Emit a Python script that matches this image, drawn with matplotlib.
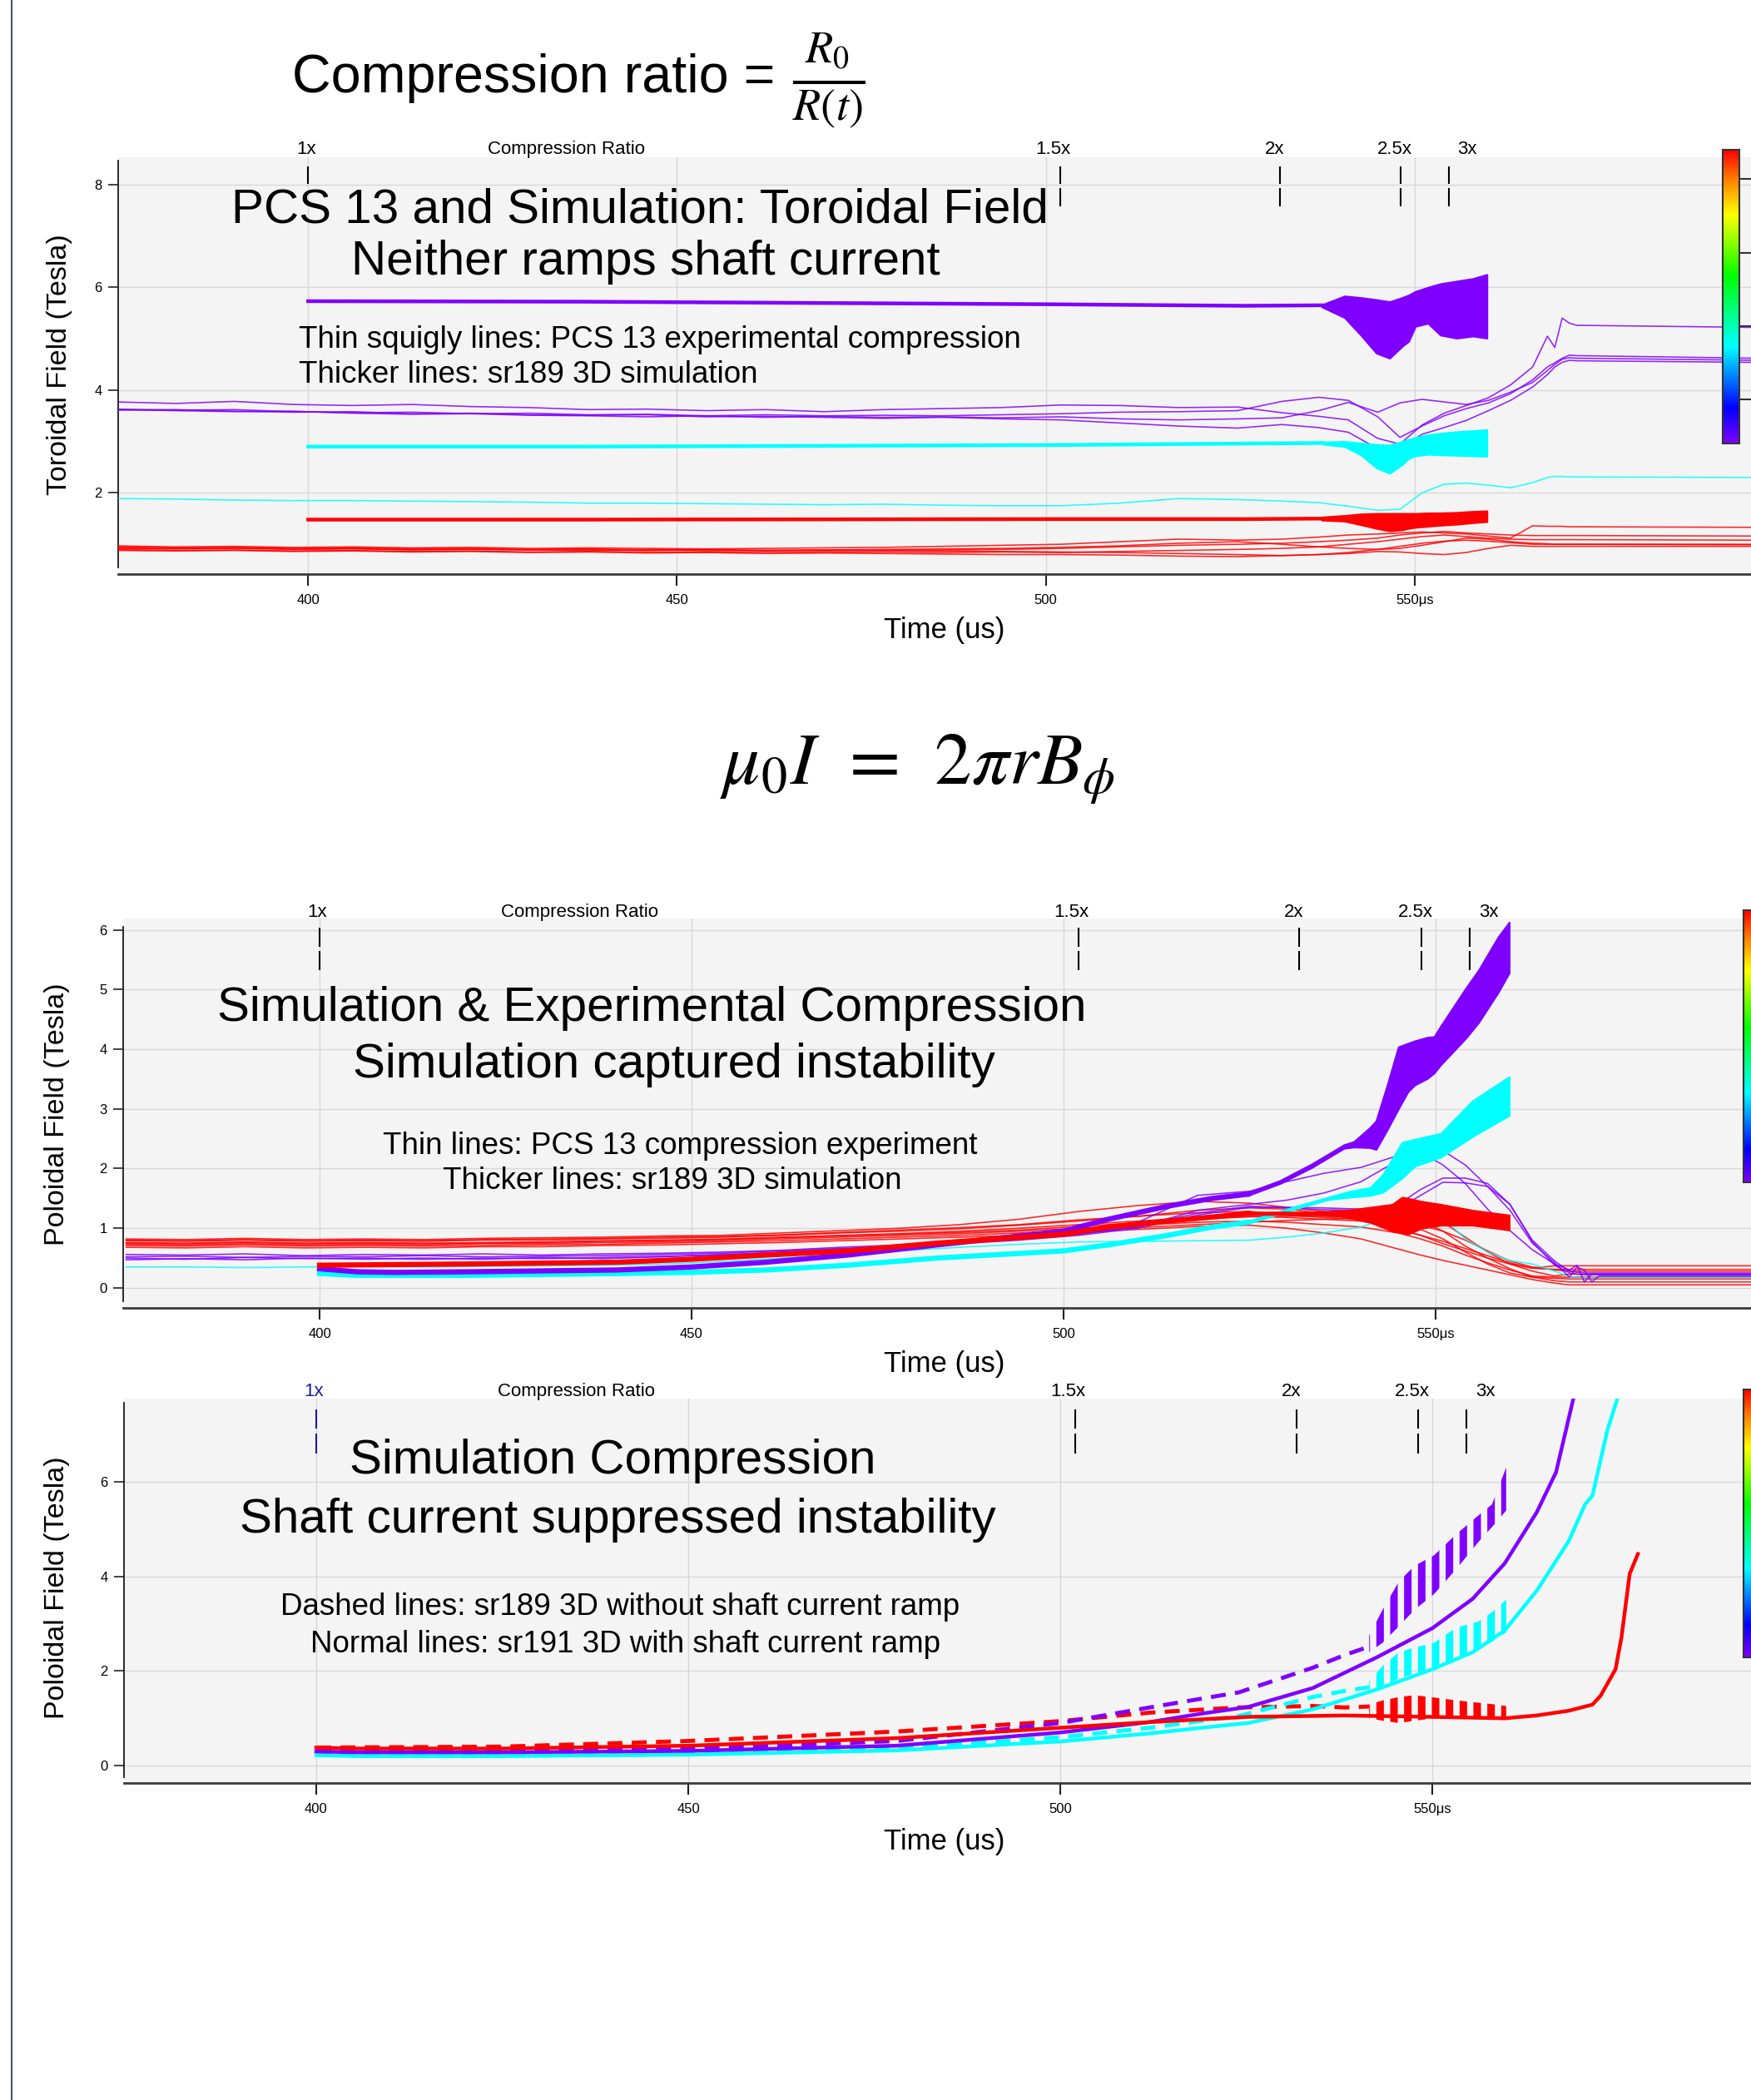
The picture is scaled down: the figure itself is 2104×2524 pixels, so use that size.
import numpy as np
import matplotlib
matplotlib.use("Agg")
import matplotlib.pyplot as plt
from matplotlib.colors import LinearSegmentedColormap
from matplotlib.lines import Line2D
from matplotlib.transforms import blended_transform_factory

plt.rcParams['font.family'] = ['Liberation Sans', 'DejaVu Sans']
plt.rcParams['mathtext.fontset'] = 'stix'
plt.rcParams['hatch.linewidth'] = 6.5

PURPLE = '#7f00ff'
CYAN = '#00ffff'
RED = '#ff0000'

# time axis (us)
time_ticks = [400, 450, 500, 550]
time_tick_labels = ['400', '450', '500', '550\u03bcs']

# compression ratio markers along the top of each panel
cr_labels = ['1x', '1.5x', '2x', '2.5x', '3x']
cr_ticks = [400, 502.0, 531.7, 548.1, 554.6]
cr_label_x = [399.7, 501.0, 531.0, 547.3, 557.1]

# ---------------- toroidal field panel ----------------
t_top = [374, 382, 390, 398, 406, 414, 422, 430, 438, 446, 454, 462, 470, 478, 486, 494,
         502, 510, 518, 526, 532, 537, 541, 545, 548, 551, 554, 557, 560, 563, 566, 568,
         569, 570, 571, 572, 596]
top_exp_purple = [
    [3.77, 3.74, 3.78, 3.72, 3.70, 3.72, 3.68, 3.66, 3.62, 3.63, 3.60, 3.62, 3.58, 3.62, 3.64, 3.66,
     3.71, 3.70, 3.66, 3.67, 3.56, 3.49, 3.42, 3.06, 2.95, 3.32, 3.55, 3.70, 3.85, 4.10, 4.45, 5.05,
     4.83, 5.40, 5.30, 5.26, 5.22],
    [3.63, 3.61, 3.62, 3.58, 3.56, 3.57, 3.54, 3.55, 3.52, 3.53, 3.50, 3.52, 3.50, 3.51, 3.50, 3.52,
     3.54, 3.57, 3.58, 3.60, 3.78, 3.86, 3.80, 3.48, 3.08, 3.30, 3.50, 3.64, 3.75, 3.93, 4.20, 4.45,
     4.53, 4.62, 4.68, 4.67, 4.62],
    [3.62, 3.60, 3.58, 3.59, 3.55, 3.53, 3.54, 3.51, 3.50, 3.48, 3.50, 3.47, 3.49, 3.47, 3.48, 3.46,
     3.48, 3.44, 3.42, 3.44, 3.46, 3.60, 3.76, 3.57, 3.75, 3.82, 3.77, 3.72, 3.80, 3.96, 4.15, 4.38,
     4.50, 4.60, 4.63, 4.62, 4.58],
    [3.61, 3.62, 3.59, 3.57, 3.58, 3.54, 3.55, 3.52, 3.51, 3.52, 3.48, 3.49, 3.47, 3.45, 3.47, 3.44,
     3.42, 3.36, 3.30, 3.26, 3.33, 3.27, 3.18, 2.86, 2.87, 3.14, 3.27, 3.41, 3.60, 3.80, 4.06, 4.30,
     4.45, 4.54, 4.58, 4.57, 4.54],
]
top_exp_cyan = [1.89, 1.88, 1.86, 1.85, 1.85, 1.84, 1.83, 1.82, 1.80, 1.80, 1.79, 1.78, 1.77, 1.78,
                1.76, 1.75, 1.75, 1.80, 1.89, 1.87, 1.84, 1.81, 1.74, 1.66, 1.68, 2.00, 2.17, 2.19,
                2.15, 2.10, 2.20, 2.30, 2.32, 2.32, 2.31, 2.31, 2.30]
top_exp_red = [
    [.97, .95, .96, .94, .95, .93, .94, .92, .93, .92, .91, .92, .93, .94, .96, .98, 1.00, 1.05, 1.10,
     1.08, 1.10, 1.14, 1.18, 1.20, 1.22, 1.24, 1.22, 1.20, 1.16, 1.12, 1.36, 1.35, 1.35, 1.35, 1.34,
     1.34, 1.33],
    [.92, .91, .92, .90, .91, .89, .90, .89, .88, .89, .87, .88, .87, .88, .89, .90, .92, .95, .98,
     1.00, 1.02, 1.05, 1.08, 1.12, 1.18, 1.22, 1.25, 1.22, 1.20, 1.18, 1.17, 1.17, 1.17, 1.17, 1.17,
     1.17, 1.16],
    [.90, .88, .89, .87, .88, .86, .87, .85, .86, .85, .84, .85, .84, .85, .84, .85, .84, .86, .88,
     .90, .92, .95, 1.00, 1.05, 1.10, 1.15, 1.18, 1.15, 1.12, 1.10, 1.09, 1.09, 1.09, 1.09, 1.09,
     1.09, 1.08],
    [.95, .93, .94, .92, .93, .91, .92, .90, .91, .89, .90, .88, .89, .88, .87, .86, .85, .84, .82,
     .80, .78, .80, .84, .90, .96, 1.02, 1.06, 1.08, 1.06, 1.03, 1.00, 1.00, 1.00, 1.00, 1.00, 1.00,
     1.00],
    [.88, .87, .88, .86, .87, .85, .86, .84, .85, .83, .84, .82, .83, .82, .81, .80, .80, .79, .77,
     .76, .78, .80, .82, .86, .85, .82, .80, .84, .92, .98, .96, .96, .96, .96, .96, .96, .96],
    [.93, .92, .93, .91, .92, .90, .91, .89, .90, .88, .89, .88, .89, .90, .91, .92, .94, .97, 1.02,
     1.05, 1.00, .95, .92, .90, .92, .98, 1.05, 1.12, 1.10, 1.05, 1.02, 1.01, 1.00, 1.00, 1.00, 1.00,
     .99],
]
top_sim_t = [400, 437, 500, 527, 537.4]
top_sim_purple = [5.73, 5.72, 5.67, 5.64, 5.65]
top_sim_cyan = [2.90, 2.90, 2.93, 2.96, 2.97]
top_sim_red = [1.48, 1.48, 1.49, 1.49, 1.50]
top_band_t = [537.4, 540.5, 542.7, 544.8, 546.6, 548.3, 549.2, 550.1, 551.8, 553.5, 555.7, 557.9, 559.8]
top_band_purple_hi = [5.66, 5.83, 5.80, 5.76, 5.72, 5.80, 5.85, 5.92, 6.00, 6.07, 6.12, 6.17, 6.25]
top_band_purple_lo = [5.62, 5.41, 5.07, 4.72, 4.62, 4.85, 4.95, 5.24, 5.30, 5.07, 5.01, 5.05, 5.01]
top_band_cyan_hi = [2.99, 3.00, 2.97, 2.94, 2.93, 3.00, 3.04, 3.08, 3.13, 3.16, 3.19, 3.21, 3.23]
top_band_cyan_lo = [2.95, 2.90, 2.74, 2.49, 2.38, 2.55, 2.67, 2.72, 2.75, 2.74, 2.73, 2.72, 2.71]
top_band_red_hi = [1.53, 1.56, 1.59, 1.60, 1.60, 1.60, 1.60, 1.60, 1.61, 1.61, 1.62, 1.64, 1.65]
top_band_red_lo = [1.47, 1.45, 1.38, 1.31, 1.26, 1.28, 1.31, 1.33, 1.35, 1.37, 1.39, 1.42, 1.44]

# ---------------- poloidal field, experiment vs simulation ----------------
t_mid = [374, 382, 390, 398, 406, 414, 422, 430, 438, 446, 454, 462, 470, 478, 486, 494,
         502, 510, 518, 525, 530, 535, 540, 545, 548, 551, 554, 557, 560, 563, 566, 568,
         569, 570, 571, 572, 596]
mid_exp_purple = [
    [.56, .55, .57, .54, .56, .55, .57, .55, .57, .58, .60, .63, .68, .72, .78, .85, .95, 1.10, 1.55,
     1.62, 1.78, 1.92, 2.02, 2.22, 2.27, 2.06, 1.75, 1.32, .96, .64, .40, .30, .38, .10, .23, .23, .23],
    [.52, .53, .51, .53, .52, .54, .52, .53, .54, .56, .58, .62, .66, .70, .76, .82, .90, 1.02, 1.30,
     1.40, 1.47, 1.59, 1.78, 2.14, 2.31, 2.30, 2.06, 1.70, 1.30, .75, .42, .18, .35, .30, .10, .20, .20],
    [.50, .48, .51, .49, .50, .48, .50, .49, .51, .53, .55, .60, .64, .69, .74, .80, .88, 1.00, 1.22,
     1.35, 1.35, 1.34, 1.32, 1.40, 1.65, 1.84, 1.84, 1.75, 1.40, .80, .45, .28, .26, .25, .25, .25, .25],
    [.47, .49, .47, .50, .48, .50, .48, .51, .49, .52, .56, .59, .65, .68, .75, .81, .90, 1.04, 1.25,
     1.37, 1.34, 1.31, 1.30, 1.33, 1.55, 1.77, 1.76, 1.70, 1.40, .78, .38, .25, .23, .22, .22, .22, .22],
]
mid_exp_cyan = [.35, .35, .34, .35, .36, .35, .36, .37, .38, .40, .44, .50, .56, .62, .68, .73, .77,
                .78, .79, .80, .85, .92, 1.02, 1.22, 1.32, 1.18, .82, .60, .46, .40, .28, .18, .17,
                .17, .17, .17, .17]
mid_exp_red = [
    [.82, .81, .83, .81, .82, .81, .83, .84, .85, .87, .88, .92, .96, 1.00, 1.06, 1.15, 1.28, 1.38, 1.45,
     1.42, 1.35, 1.28, 1.18, 1.00, .88, .74, .62, .50, .40, .33, .37, .37, .37, .37, .37, .37, .37],
    [.79, .78, .80, .78, .79, .78, .80, .80, .82, .83, .85, .88, .92, .95, .99, 1.05, 1.12, 1.20, 1.30,
     1.34, 1.32, 1.25, 1.12, .98, .88, .78, .66, .54, .42, .33, .31, .31, .31, .31, .31, .31, .31],
    [.76, .75, .77, .75, .76, .75, .76, .77, .79, .80, .82, .85, .88, .91, .95, 1.00, 1.06, 1.12, 1.18,
     1.20, 1.18, 1.15, 1.12, 1.12, 1.15, 1.10, .85, .60, .40, .28, .20, .23, .23, .23, .23, .23, .23],
    [.73, .72, .74, .72, .73, .72, .74, .74, .76, .77, .79, .82, .85, .88, .91, .95, 1.00, 1.05, 1.10,
     1.12, 1.10, 1.06, 1.02, .92, .82, .70, .55, .42, .30, .20, .18, .18, .18, .18, .18, .18, .18],
    [.71, .70, .72, .70, .71, .70, .71, .72, .73, .75, .77, .79, .82, .85, .88, .92, .97, 1.01, 1.06,
     1.10, 1.13, 1.15, 1.17, 1.18, 1.12, .95, .70, .50, .32, .18, .12, .10, .10, .10, .10, .10, .10],
    [.68, .67, .69, .67, .68, .67, .69, .69, .71, .72, .74, .76, .79, .82, .85, .88, .93, .98, 1.03,
     1.05, 1.00, .92, .82, .65, .55, .46, .38, .30, .22, .14, .08, .05, .05, .05, .05, .05, .05],
    [.80, .79, .81, .79, .80, .79, .81, .82, .83, .85, .86, .89, .93, .97, 1.01, 1.06, 1.14, 1.20, 1.26,
     1.28, 1.22, 1.18, 1.15, 1.12, 1.05, .95, .80, .62, .45, .35, .30, .28, .28, .28, .28, .28, .28],
    [.75, .74, .76, .74, .75, .74, .75, .76, .78, .79, .81, .84, .87, .90, .93, .97, 1.03, 1.09, 1.15,
     1.19, 1.20, 1.20, 1.18, 1.10, .98, .82, .60, .40, .25, .18, .16, .15, .15, .15, .15, .15, .15],
]
mid_sim_purple_t = [400, 405, 410, 420, 440, 450, 460, 471, 483, 500, 506, 514, 520, 524.8]
mid_sim_purple = [0.32, 0.27, 0.26, 0.27, 0.30, 0.35, 0.43, 0.55, 0.72, 0.95, 1.15, 1.37, 1.50, 1.57]
mid_sim_cyan_t = [400, 405, 420, 440, 450, 460, 471, 483, 500, 506, 514, 520, 524.8]
mid_sim_cyan = [0.24, 0.21, 0.21, 0.24, 0.26, 0.30, 0.38, 0.50, 0.62, 0.72, 0.88, 1.02, 1.10]
mid_sim_red_t = [400, 420, 440, 450, 460, 471, 483, 500, 506, 514, 521, 524.8]
mid_sim_red = [0.38, 0.40, 0.43, 0.48, 0.55, 0.62, 0.75, 0.90, 1.02, 1.12, 1.20, 1.25]
mid_band_purple_t = [524.8, 529.1, 533.4, 537.7, 539.0, 541.2, 542.0, 543.5, 545.0, 546.3, 547.2,
                     548.9, 549.8, 550.7, 554.1, 555.8, 558.4, 559.9]
mid_band_purple_hi = [1.60, 1.80, 2.08, 2.40, 2.45, 2.69, 2.80, 3.40, 4.04, 4.10, 4.14, 4.20, 4.21,
                      4.39, 5.03, 5.33, 5.88, 6.13]
mid_band_purple_lo = [1.55, 1.75, 2.02, 2.34, 2.36, 2.35, 2.32, 2.65, 3.00, 3.29, 3.40, 3.51, 3.60,
                      3.74, 4.19, 4.45, 4.95, 5.28]
mid_band_cyan_t = [524.8, 531.3, 535.6, 538.5, 541.2, 542.9, 545.5, 547.2, 550.7, 555.0, 559.9]
mid_band_cyan_hi = [1.12, 1.37, 1.52, 1.62, 1.68, 1.90, 2.44, 2.49, 2.59, 3.14, 3.54]
mid_band_cyan_lo = [1.08, 1.33, 1.48, 1.52, 1.55, 1.60, 1.84, 2.04, 2.19, 2.54, 2.89]
mid_band_red_t = [524.8, 533.4, 538.0, 541.2, 544.2, 545.5, 546.3, 548.1, 550.7, 555.0, 559.9]
mid_band_red_hi = [1.27, 1.27, 1.30, 1.35, 1.40, 1.52, 1.50, 1.45, 1.40, 1.30, 1.22]
mid_band_red_lo = [1.23, 1.23, 1.20, 1.10, 0.95, 0.92, 0.90, 1.00, 1.05, 1.05, 0.97]

# ---------------- poloidal field, sr189 vs sr191 ----------------
bot_solid_purple_t = [400, 405, 425, 450, 478, 500, 512, 519, 525.2, 533.9, 542.5, 550, 555.4,
                      559.7, 564, 566.6, 568.9]
bot_solid_purple = [0.30, 0.28, 0.28, 0.31, 0.42, 0.70, 0.92, 1.10, 1.24, 1.64, 2.29, 2.91, 3.53,
                    4.28, 5.36, 6.21, 7.75]
bot_solid_cyan_t = [400, 405, 425, 450, 478, 500, 512, 519, 525.2, 533.9, 542.5, 550, 555.4,
                    559.7, 564, 568.3, 570.5, 571.5, 573.5, 575.0]
bot_solid_cyan = [0.22, 0.20, 0.20, 0.23, 0.32, 0.51, 0.68, 0.80, 0.90, 1.19, 1.61, 2.04, 2.40,
                  2.86, 3.70, 4.75, 5.53, 5.72, 7.10, 7.85]
bot_solid_red_t = [400, 405, 425, 450, 478, 500, 512, 525.2, 538.2, 550, 559.7, 564, 568.3, 571.5,
                   572.6, 574.6, 575.4, 576.5, 577.6]
bot_solid_red = [0.38, 0.36, 0.36, 0.42, 0.58, 0.80, 0.92, 1.03, 1.06, 1.03, 1.00, 1.06, 1.16,
                 1.29, 1.48, 2.04, 2.72, 4.06, 4.48]
bot_dash_t = [400, 425, 450, 478, 500, 512, 524, 533.9, 538.2, 541.5]
bot_dash_purple = [0.30, 0.30, 0.35, 0.52, 0.90, 1.23, 1.55, 2.07, 2.34, 2.52]
bot_dash_cyan = [0.22, 0.21, 0.24, 0.36, 0.60, 0.80, 1.05, 1.45, 1.58, 1.66]
bot_dash_red = [0.38, 0.40, 0.52, 0.72, 0.94, 1.12, 1.23, 1.26, 1.23, 1.25]
bot_band_t = [541.5, 543.3, 545.5, 547.6, 550.2, 553.2, 556.2, 558.0, 559.9]
bot_band_purple_hi = [2.75, 3.30, 3.90, 4.23, 4.45, 4.90, 5.30, 5.53, 6.31]
bot_band_purple_lo = [2.40, 2.60, 2.95, 3.30, 3.63, 4.16, 4.74, 5.05, 5.40]
bot_band_cyan_hi = [1.78, 2.11, 2.40, 2.50, 2.60, 2.92, 3.05, 3.25, 3.51]
bot_band_cyan_lo = [1.55, 1.68, 1.84, 1.95, 2.06, 2.27, 2.47, 2.62, 2.82]
bot_band_red_hi = [1.29, 1.38, 1.45, 1.49, 1.44, 1.38, 1.33, 1.30, 1.26]
bot_band_red_lo = [1.00, 0.95, 0.90, 0.95, 1.00, 1.02, 1.03, 1.02, 1.00]

W, H = 2104, 2524
fig = plt.figure(figsize=(W / 100, H / 100), dpi=100)

bar_cmap = LinearSegmentedColormap.from_list(
    'bar', [(0.0, '#7f00ff'), (0.12, '#0000ff'), (0.33, '#00ffff'), (0.57, '#00ff00'),
            (0.78, '#ffff00'), (0.9, '#ff8000'), (1.0, '#ff0000')])


def panel(left, top, bottom, xlim, ylim, yticks, ybounds):
    ax = fig.add_axes([left / W, 1 - bottom / H, 1 - left / W, (bottom - top) / H])
    ax.set_facecolor('#f4f4f4')
    ax.set_xlim(*xlim)
    ax.set_ylim(*ylim)
    ax.set_xticks(time_ticks)
    ax.set_xticklabels(time_tick_labels)
    ax.set_yticks(yticks)
    ax.grid(True, color='#d8d8d8', lw=1.0)
    ax.set_axisbelow(True)
    ax.spines['top'].set_visible(False)
    ax.spines['right'].set_visible(False)
    ax.spines['left'].set_bounds(*ybounds)
    ax.spines['left'].set_linewidth(1.3)
    ax.spines['left'].set_color('#1a1a1a')
    ax.spines['bottom'].set_linewidth(2.0)
    ax.spines['bottom'].set_color('#3a3a3a')
    ax.tick_params(axis='x', direction='out', length=10, width=1.5, pad=7, labelsize=12,
                   color='#222222')
    ax.tick_params(axis='y', direction='out', length=9, width=1.2, pad=5, labelsize=12,
                   color='#222222')
    return ax


def compression_marks(ax, seg, label_y, first_color='black', first_lower=True):
    tr = blended_transform_factory(ax.transData, ax.transAxes)
    for i, (t, lx, lab) in enumerate(zip(cr_ticks, cr_label_x, cr_labels)):
        c = first_color if i == 0 else 'black'
        ax.vlines(t, seg[0], seg[1], color=c, lw=1.5, zorder=5)
        if i > 0 or first_lower:
            ax.vlines(t, seg[2], seg[3], color=c, lw=1.5, zorder=5)
        ax.text(lx, label_y, lab, transform=tr, ha='center', va='center', fontsize=16,
                color=c, clip_on=False)
    ax.text(435.0, label_y, 'Compression Ratio', transform=tr, ha='center', va='center',
            fontsize=16, clip_on=False)


def color_strip(top, bottom, left, ticks):
    cax = fig.add_axes([left / W, 1 - bottom / H, 20 / W, (bottom - top) / H])
    cax.imshow(np.linspace(0, 1, 256).reshape(-1, 1), cmap=bar_cmap, aspect='auto',
               origin='lower', extent=[0, 1, 0, 1])
    cax.set_xticks([])
    cax.yaxis.tick_right()
    cax.set_yticks(ticks)
    cax.set_yticklabels([])
    cax.tick_params(axis='y', length=10, width=1.5, color='#333333')
    for s in cax.spines.values():
        s.set_linewidth(1.5)
        s.set_color('#333333')


def thin(ax, t, y, c):
    ax.plot(t, y, color=c, lw=1.15, alpha=0.85, zorder=3)


# --- panel 1: toroidal field ---
ax1 = panel(142, 189, 690, (374.24, 595.6), (0.42, 8.53), [2, 4, 6, 8], (0.55, 8.46))
for y in top_exp_red:
    thin(ax1, t_top, y, RED)
thin(ax1, t_top, top_exp_cyan, CYAN)
for y in top_exp_purple:
    thin(ax1, t_top, y, PURPLE)
for y, hi, lo, c in [(top_sim_purple, top_band_purple_hi, top_band_purple_lo, PURPLE),
                     (top_sim_cyan, top_band_cyan_hi, top_band_cyan_lo, CYAN),
                     (top_sim_red, top_band_red_hi, top_band_red_lo, RED)]:
    ax1.plot(top_sim_t, y, color=c, lw=3.2, zorder=4)
    ax1.fill_between(top_band_t, lo, hi, color=c, lw=1.5, zorder=4)
compression_marks(ax1, (8.35, 8.01, 7.93, 7.57), 1.018, first_lower=False)
ax1.text(445.0, 7.50, 'PCS 13 and Simulation: Toroidal Field', ha='center', va='center',
         fontsize=42)
ax1.text(445.8, 6.49, 'Neither ramps shaft current', ha='center', va='center', fontsize=42)
ax1.text(398.7, 4.97, 'Thin squigly lines: PCS 13 experimental compression', ha='left',
         va='center', fontsize=26.5)
ax1.text(398.7, 4.29, 'Thicker lines: sr189 3D simulation', ha='left', va='center',
         fontsize=26.5)
color_strip(180, 533, 2070, [0.15, 0.4, 0.65, 0.9])

# --- panel 2: poloidal field, experiment and simulation ---
ax2 = panel(148, 1104, 1572, (373.6, 592.4), (-0.336, 6.19), [0, 1, 2, 3, 4, 5, 6], (-0.22, 6.05))
for y in mid_exp_red:
    thin(ax2, t_mid, y, RED)
thin(ax2, t_mid, mid_exp_cyan, CYAN)
for y in mid_exp_purple:
    thin(ax2, t_mid, y, PURPLE)
ax2.plot(mid_sim_cyan_t, mid_sim_cyan, color=CYAN, lw=4.5, zorder=4)
ax2.fill_between(mid_band_cyan_t, mid_band_cyan_lo, mid_band_cyan_hi, color=CYAN, lw=1.5, zorder=4)
ax2.plot(mid_sim_purple_t, mid_sim_purple, color=PURPLE, lw=4.5, zorder=4)
ax2.fill_between(mid_band_purple_t, mid_band_purple_lo, mid_band_purple_hi, color=PURPLE, lw=1.5,
                 zorder=4)
ax2.plot(mid_sim_red_t, mid_sim_red, color=RED, lw=4.5, zorder=4)
ax2.fill_between(mid_band_red_t, mid_band_red_lo, mid_band_red_hi, color=RED, lw=1.5, zorder=4)
compression_marks(ax2, (6.03, 5.72, 5.64, 5.32), 1.015)
ax2.text(444.7, 4.68, 'Simulation & Experimental Compression', ha='center', va='center',
         fontsize=42)
ax2.text(447.6, 3.74, 'Simulation captured instability', ha='center', va='center', fontsize=42)
ax2.text(448.5, 2.37, 'Thin lines: PCS 13 compression experiment', ha='center', va='center',
         fontsize=26.5)
ax2.text(447.4, 1.79, 'Thicker lines: sr189 3D simulation', ha='center', va='center',
         fontsize=26.5)
color_strip(1094, 1421, 2095, [])

# --- panel 3: poloidal field, with and without shaft current ramp ---
ax3 = panel(149, 1681, 2143, (374.17, 592.8), (-0.37, 7.77), [0, 2, 4, 6], (-0.24, 7.68))
dash = (0, (3.7, 2.3))
for y, hi, lo, c in [(bot_dash_red, bot_band_red_hi, bot_band_red_lo, RED),
                     (bot_dash_cyan, bot_band_cyan_hi, bot_band_cyan_lo, CYAN),
                     (bot_dash_purple, bot_band_purple_hi, bot_band_purple_lo, PURPLE)]:
    ax3.plot(bot_dash_t, y, color=c, lw=3.5, ls=dash, zorder=4)
    ax3.fill_between(bot_band_t, lo, hi, facecolor='none', edgecolor=c, hatch='|', lw=0, zorder=4)
ax3.plot(bot_solid_cyan_t, bot_solid_cyan, color=CYAN, lw=3.2, zorder=5)
ax3.plot(bot_solid_purple_t, bot_solid_purple, color=PURPLE, lw=3.2, zorder=5)
ax3.plot(bot_solid_red_t, bot_solid_red, color=RED, lw=3.2, zorder=5)
compression_marks(ax3, (7.54, 7.13, 7.03, 6.60), 1.018, first_color='#1c1c9c')
ax3.text(439.8, 6.44, 'Simulation Compression', ha='center', va='center', fontsize=42)
ax3.text(440.5, 5.20, 'Shaft current suppressed instability', ha='center', va='center',
         fontsize=42)
ax3.text(440.8, 3.35, 'Dashed lines: sr189 3D without shaft current ramp', ha='center',
         va='center', fontsize=26.5)
ax3.text(441.6, 2.56, 'Normal lines: sr191 3D with shaft current ramp', ha='center',
         va='center', fontsize=26.5)
color_strip(1670, 1992, 2095, [])

# axis titles
for y_px in [757, 1639, 2213]:
    fig.text(1135 / W, 1 - y_px / H, 'Time (us)', ha='center', va='center', fontsize=25)
fig.text(72 / W, 1 - 438 / H, 'Toroidal Field (Tesla)', ha='center', va='center', fontsize=24.5,
         rotation=90)
for y_px in [1339, 1908]:
    fig.text(69 / W, 1 - y_px / H, 'Poloidal Field (Tesla)', ha='center', va='center',
             fontsize=24.5, rotation=90)

# equations
fig.text(351 / W, 1 - 94 / H, 'Compression ratio =', ha='left', va='center', fontsize=46.5)
fig.text(996 / W, 1 - 97 / H, r'$\frac{R_0}{R(t)}$', ha='center', va='center', fontsize=56)
fig.text(1103 / W, 1 - 925 / H, r'$\mu_0 I\;\,=\;\,\mathit{2}\pi r B_\phi$', ha='center',
         va='center', fontsize=64)

fig.add_artist(Line2D([14 / W, 14 / W], [0, 1], transform=fig.transFigure, color='#4b5563',
                      lw=1.5))

fig.savefig('out.png', dpi=100, facecolor='white')
